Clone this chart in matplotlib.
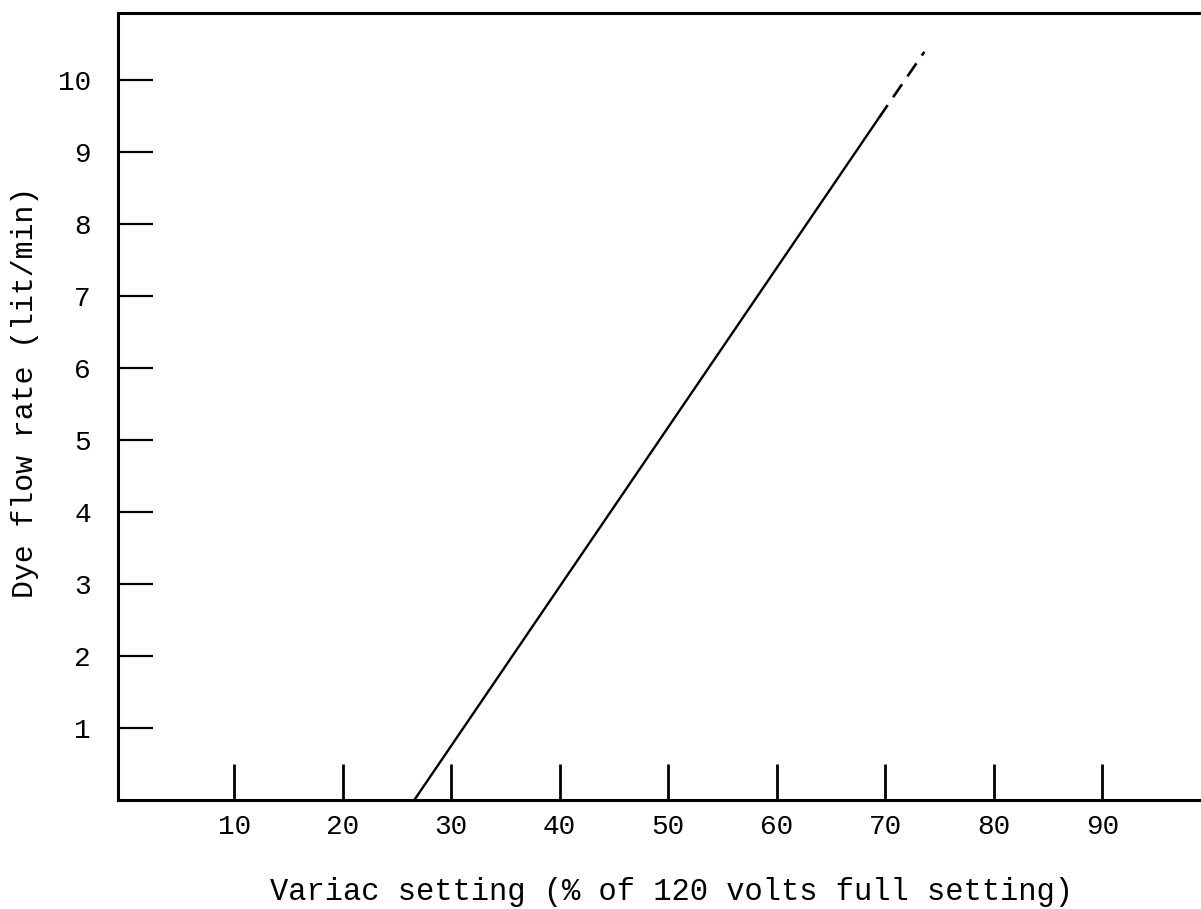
import matplotlib.pyplot as plt

# ---------------------------------
# Data
# ---------------------------------
x_ticks = [10, 20, 30, 40, 50, 60, 70, 80, 90]
y_ticks = [1, 2, 3, 4, 5, 6, 7, 8, 9, 10]

# measured calibration line
solid_x = [26.6, 69.4]
solid_y = [0.0, 9.47]
# extrapolated part
dash_x = [69.4, 73.6]
dash_y = [9.47, 10.39]

plt.rcParams["font.family"] = ["Liberation Mono", "DejaVu Sans Mono"]

fig = plt.figure(figsize=(12.01, 9.09), dpi=100)
ax = fig.add_axes([0.0983, 0.1199, 0.9017, 0.8658])

ax.plot(solid_x, solid_y, color="black", lw=1.7, solid_capstyle="butt")
ax.plot(dash_x, dash_y, color="black", lw=1.9, dashes=(6, 3.6))

ax.set_xlim(-0.7, 99.1)
ax.set_ylim(0, 10.93)

ax.set_xticks(x_ticks)
ax.set_yticks(y_ticks)
ax.tick_params(axis="x", direction="in", length=26, width=2.0, pad=10, labelsize=20)
ax.tick_params(axis="y", direction="in", length=25, width=1.6, pad=19.5, labelsize=20)

for side in ["left", "bottom", "top"]:
    ax.spines[side].set_linewidth(2.2)
ax.spines["right"].set_visible(False)

ax.set_xlabel("Variac setting (% of 120 volts full setting)", fontsize=22,
              ha="center", va="center")
ax.xaxis.set_label_coords(0.5106, -0.1169)
ax.set_ylabel("Dye flow rate (lit/min)", fontsize=21.5, ha="center", va="center")
ax.yaxis.set_label_coords(-0.0859, 0.518)

fig.savefig("out.png", dpi=100)
